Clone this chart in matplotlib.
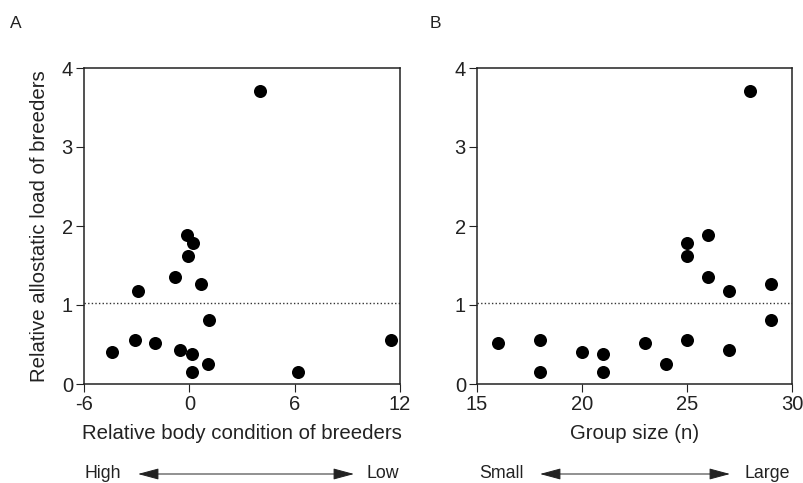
import matplotlib
matplotlib.use("Agg")
import matplotlib.pyplot as plt

plt.rcParams['font.family'] = ['Liberation Sans', 'DejaVu Sans']
plt.rcParams['axes.unicode_minus'] = False

# Panel A data
body_condition = [4.02, -0.11, 0.19, -0.06, -0.84, 0.65, -2.95, 1.13, -3.09, -1.93,
                  -4.38, -0.51, 0.17, 1.07, 0.17, 6.19, 11.49]
load_a = [3.71, 1.89, 1.79, 1.62, 1.35, 1.27, 1.18, 0.81, 0.56, 0.52,
          0.41, 0.43, 0.38, 0.25, 0.15, 0.15, 0.56]

# Panel B data
group_size = [28, 26, 25, 25, 26, 27, 29, 29, 16, 18, 18, 20, 21, 21, 23, 24, 25, 27]
load_b = [3.71, 1.89, 1.79, 1.62, 1.35, 1.18, 1.27, 0.81, 0.52, 0.56, 0.15, 0.41,
          0.38, 0.15, 0.52, 0.25, 0.56, 0.43]

ref_level = 1.02
xticks_a = [-6, 0, 6, 12]
xticks_b = [15, 20, 25, 30]
yticks = [0, 1, 2, 3, 4]

W, H = 804, 483
fig = plt.figure(figsize=(W / 100, H / 100), dpi=100)

def mk_ax(l, r, t, b):
    return fig.add_axes([l / W, 1 - b / H, (r - l) / W, (b - t) / H])

axA = mk_ax(84, 400, 68, 384)
axB = mk_ax(477, 792, 68, 384)

for ax, xs, ys, xt, xl in [(axA, body_condition, load_a, xticks_a, 'Relative body condition of breeders'),
                           (axB, group_size, load_b, xticks_b, 'Group size (n)')]:
    ax.scatter(xs, ys, s=88, color='black', zorder=3, linewidths=0)
    ax.axhline(ref_level, color='#333333', linestyle=(0, (1, 1.6)), linewidth=1.0, zorder=2)
    ax.set_xlim(xt[0], xt[-1])
    ax.set_ylim(0, 4)
    ax.set_xticks(xt)
    ax.set_yticks(yticks)
    ax.tick_params(direction='out', length=6, width=0.8, labelsize=14.5, pad=2, colors='#222222')
    for sp in ax.spines.values():
        sp.set_linewidth(1.1)
        sp.set_color('#222222')
    ax.set_xlabel(xl, fontsize=14.7, labelpad=7, color='#222222')

axA.set_ylabel('Relative allostatic load of breeders', fontsize=14.7, labelpad=9, color='#222222')

fig.text(10 / W, 1 - 23 / H, 'A', fontsize=12.5, va='center', ha='left', color='#222222')
fig.text(430 / W, 1 - 23 / H, 'B', fontsize=12.5, va='center', ha='left', color='#222222')

def arrow_row(left_txt, right_txt, lx, x0, x1, rx, y):
    yy = 1 - y / H
    fig.text(lx / W, yy, left_txt, fontsize=12.8, va='center', ha='left', color='#222222')
    fig.text(rx / W, yy, right_txt, fontsize=12.8, va='center', ha='left', color='#222222')
    fig.patches.append(matplotlib.patches.FancyArrowPatch(
        (x0 / W, yy), (x1 / W, yy), transform=fig.transFigure,
        arrowstyle='<|-|>,head_length=13,head_width=3.5', linewidth=0.7, color='#222222',
        mutation_scale=1, shrinkA=0, shrinkB=0))

arrow_row('High', 'Low', 85, 138, 354, 367, 474)
arrow_row('Small', 'Large', 479, 540, 730, 745, 474)

fig.savefig('out.png', dpi=100)
